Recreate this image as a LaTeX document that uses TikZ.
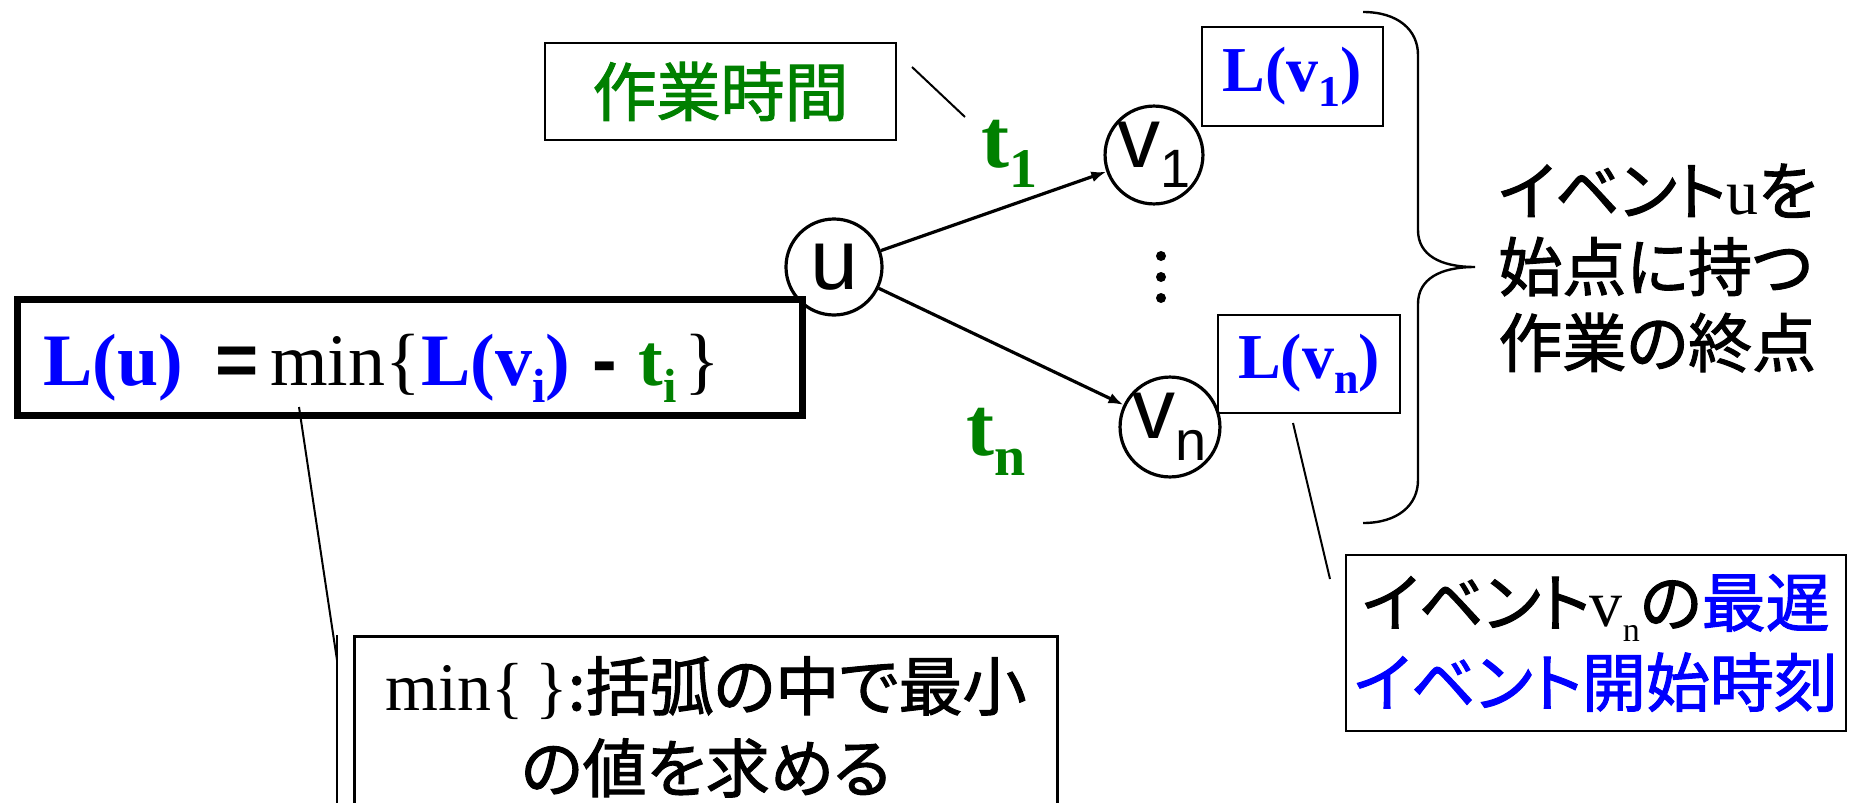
\documentclass[tikz,border=0pt]{standalone}
\usepackage{fontspec}
\setmainfont{Liberation Serif}
\setsansfont{Liberation Sans}
\newfontfamily\jp{Noto Sans CJK JP}[RawFeature=+palt, FakeBold=1.6]
\usepackage{xcolor}
\usetikzlibrary{arrows.meta,positioning,calc}
\definecolor{tgreen}{RGB}{0,128,0}
\definecolor{lblue}{RGB}{0,0,255}
\newcommand{\fsz}[2]{\fontsize{#1}{#2}\selectfont}
\newcommand{\low}[3]{\raisebox{-#1}{\fontsize{#2}{#2}\selectfont #3}}
\begin{document}
\begin{tikzpicture}[
    x=0.5pt, y=-0.5pt,
    evt/.style={circle, draw, line width=1.6pt, minimum size=48pt, inner sep=0pt, font=\sffamily\fsz{43pt}{43pt}},
    lbox/.style={rectangle, draw, line width=1.4pt, inner sep=0pt},
    arr/.style={-{Latex[length=7.5pt,width=5.5pt]}, line width=1.6pt},
    lead/.style={line width=1pt},
]
    \useasboundingbox (0,0) rectangle (1854,803);
    \clip (0,0) rectangle (1854,803);

    % FORMULA (left)
    \node[lbox, line width=3.5pt, minimum width=392.5pt, minimum height=58pt] (lubox) at (410,357.5) {};
    \node[anchor=base west, inner sep=0pt, font=\fsz{37pt}{37pt}] (lu) at (43,385)
        {{\color{lblue}\bfseries L(u)}\hspace{16pt}{\sffamily\bfseries =}\hspace{6pt}min\{{\color{lblue}\bfseries L(v\low{8.5pt}{24pt}{i})}\hspace{11pt}{\sffamily\bfseries -}\hspace{11pt}{\color{tgreen}\bfseries t\low{8.5pt}{24pt}{i}}\hspace{4pt}\}};

    % EVENTS
    \node[evt] (u) at (834,267) {u};
    \node[evt] (v1) at (1154,155) {v\low{10pt}{27pt}{1}};
    \node[evt] (vn) at (1170,427) {v\low{11pt}{28pt}{n}};
    \draw[arr] (u) -- (v1);
    \draw[arr] (u) -- (vn);
    \foreach \y in {256,277,298}
        \fill (1161,\y) circle[radius=5];

    % WORK TIMES
    \node[anchor=base west, inner sep=0pt, text=tgreen, font=\bfseries\fsz{42pt}{42pt}] (t1) at (981,167) {t\low{10pt}{28pt}{1}};
    \node[anchor=base west, inner sep=0pt, text=tgreen, font=\bfseries\fsz{42pt}{42pt}] (tn) at (966,455) {t\low{10pt}{28pt}{n}};
    \node[lbox, minimum width=175.5pt, minimum height=48.5pt, text=tgreen, font=\jp\fsz{32pt}{32pt}] (sagyo) at (720.5,91.5) {作業時間};
    \coordinate (sg1) at (912,67);
    \coordinate (sg2) at (965,117);
    \draw[lead] (sg1) -- (sg2);

    % LATEST TIMES
    \node[lbox, minimum width=90.5pt, minimum height=49.5pt, text=lblue, font=\bfseries\fsz{32pt}{32pt}] (lv1) at (1292.5,76.5) {L(v\low{7.5pt}{22pt}{1})};
    \node[lbox, minimum width=91pt, minimum height=49pt, text=lblue, font=\bfseries\fsz{32pt}{32pt}] (lvn) at (1309,364) {L(v\low{7.5pt}{22pt}{n})};

    % BRACE (right)
    \draw[line width=1.2pt] (1363,12) .. controls (1398,12) and (1418,30) .. (1418,55) -- (1418,230)
        .. controls (1418,255) and (1440,267) .. (1475,267)
        .. controls (1440,267) and (1418,279) .. (1418,304) -- (1418,480)
        .. controls (1418,505) and (1398,523) .. (1363,523);
    \node[anchor=west, align=left, inner sep=0pt, font=\jp\fsz{32pt}{38pt}] (evtxt) at (1498,268)
        {イベント{\rmfamily u}を\\始点に持つ\\作業の終点};

    % NOTES (bottom)
    \node[lbox, minimum width=250pt, minimum height=88pt, align=center, font=\jp\fsz{32pt}{40pt}] (vnnote) at (1596,643)
        {イベント{\rmfamily\fsz{33pt}{40pt}v\low{7.5pt}{17pt}{n}}の{\color{lblue}最遅}\\{\color{lblue}イベント開始時刻}};
    \coordinate (vl1) at (1293,423);
    \coordinate (vl2) at (1330,579);
    \draw[lead] (vl1) -- (vl2);

    \node[lbox, anchor=north west, minimum width=351.5pt, inner ysep=10pt, align=center, font=\jp\fsz{32pt}{41pt}] (minnote) at (353,635)
        {{\rmfamily\fsz{34pt}{41pt}min\{\,\}}:括弧の中で最小\\の値を求める};
    \coordinate (mn1) at (299,407);
    \coordinate (mn2) at (337,660);
    \coordinate (mn3) at (337,635);
    \coordinate (mn4) at (337,820);
    \draw[lead] (mn1) -- (mn2);
    \draw[lead] (mn3) -- (mn4);
\end{tikzpicture}
\end{document}
